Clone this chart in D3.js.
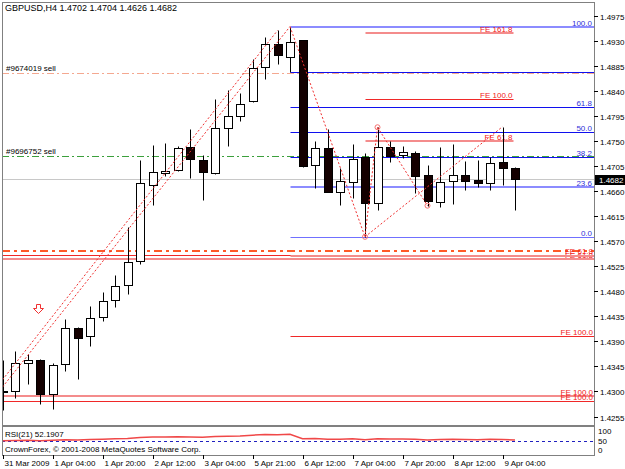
<!DOCTYPE html>
<html>
<head>
<meta charset="utf-8">
<script src="https://cdn.jsdelivr.net/npm/d3@7"></script>
<style>
body { margin: 0; background: #fff; }
svg { display: block; font-family: "Liberation Sans", Arial, sans-serif; font-size: 8px; }
</style>
</head>
<body>
<div id="vis"></div>
<script>
var width = 625,
	height = 469;

// GBPUSD H4 bars, first one is the half hidden bar at the left edge
var opens  = [1.4301, 1.4301, 1.4351, 1.4356, 1.4296, 1.4349, 1.4415, 1.4399, 1.4433, 1.4464, 1.4491, 1.4534, 1.4672, 1.4693, 1.4698, 1.4740, 1.4717, 1.4692, 1.4774, 1.4796, 1.4822, 1.4883, 1.4925, 1.4902, 1.4931, 1.4707, 1.4737, 1.4659, 1.4677, 1.4721, 1.4639, 1.4739, 1.4725, 1.4729, 1.4690, 1.4641, 1.4678, 1.4689, 1.4681, 1.4675, 1.4712, 1.4702];
var highs  = [1.4357, 1.4373, 1.4367, 1.4359, 1.4352, 1.4430, 1.4416, 1.4454, 1.4479, 1.4509, 1.4596, 1.4716, 1.4743, 1.4747, 1.4741, 1.4771, 1.4725, 1.4826, 1.4842, 1.4836, 1.4898, 1.4938, 1.4949, 1.4956, 1.4932, 1.4751, 1.4771, 1.4701, 1.4744, 1.4728, 1.4775, 1.4750, 1.4742, 1.4732, 1.4708, 1.4739, 1.4744, 1.4714, 1.4716, 1.4722, 1.4776, 1.4704];
var lows   = [1.4267, 1.4289, 1.4313, 1.4277, 1.4269, 1.4337, 1.4322, 1.4382, 1.4427, 1.4451, 1.4475, 1.4530, 1.4635, 1.4687, 1.4696, 1.4683, 1.4645, 1.4691, 1.4742, 1.4787, 1.4821, 1.4861, 1.4888, 1.4875, 1.4703, 1.4666, 1.4658, 1.4635, 1.4648, 1.4578, 1.4626, 1.4713, 1.4719, 1.4657, 1.4634, 1.4632, 1.4637, 1.4662, 1.4668, 1.4662, 1.4672, 1.4626];
var closes = [1.4301, 1.4352, 1.4356, 1.4295, 1.4347, 1.4415, 1.4396, 1.4432, 1.4463, 1.4489, 1.4532, 1.4674, 1.4694, 1.4697, 1.4738, 1.4718, 1.4694, 1.4773, 1.4795, 1.4817, 1.4881, 1.4925, 1.4904, 1.4928, 1.4705, 1.4738, 1.4659, 1.4679, 1.4718, 1.4638, 1.4739, 1.4723, 1.4731, 1.4688, 1.4643, 1.4677, 1.4690, 1.4678, 1.4674, 1.4711, 1.4701, 1.4682];
var rsi    = [49, 50, 51, 49, 51, 54, 53, 55, 57, 59, 61, 66, 68, 68, 70, 69, 67, 71, 73, 74, 78, 82, 80, 83, 59, 60, 56, 57, 59, 54, 59, 58, 58, 56, 53, 55, 56, 55, 54, 56, 55, 52.1907];

var priceTicks = ["1.4975", "1.4930", "1.4885", "1.4840", "1.4795", "1.4750", "1.4705", "1.4660", "1.4615", "1.4570", "1.4525", "1.4480", "1.4435", "1.4390", "1.4345", "1.4300", "1.4255"];
var dateLabels = ["31 Mar 2009", "1 Apr 04:00", "1 Apr 20:00", "2 Apr 12:00", "3 Apr 04:00", "5 Apr 21:00", "6 Apr 12:00", "7 Apr 04:00", "7 Apr 20:00", "8 Apr 12:00", "9 Apr 04:00"];
var dateBars   = [0, 4, 8, 12, 16, 20, 24, 28, 32, 36, 40];
var rsiTicks   = [100, 50, 0];

var lastPrice = 1.4682;

// order lines
var orderNames  = ["#9674019 sell", "#9696752 sell", ""];
var orderPrices = [1.4873, 1.4723, 1.4553];

// fibo retracement from the top (bar 23) to the low (bar 29)
var fibHigh = 1.4956, fibLow = 1.4578, fibStartBar = 23;
var fibLevels = [100, 78.6, 61.8, 50, 38.2, 23.6, 0];
var fibNames  = ["100.0", "", "61.8", "50.0", "38.2", "23.6", "0.0"];

// fibo expansion levels
var feNames  = ["FE 161.8", "FE 100.0", "FE 61.8", "FE 61.8", "FE 61.8", "", "FE 100.0", "FE 100.0", "FE 100.0"];
var fePrices = [1.4944, 1.4825, 1.4751, 1.4546, 1.4539, 1.4543, 1.4399, 1.4292, 1.4282];
var feFrom   = [29, 29, 29, null, null, 23, 23, null, null];
var feTo     = [41, 41, 41, null, null, null, null, null, null];
var feKind   = ["light", "dark", "light", "dark", "light", "light", "dark", "light", "dark"];

// dotted connecting lines [bar1, price1, bar2, price2]
var waveLines = [
	[0, 1.4308, 23, 1.4956],
	[0, 1.4321, 22, 1.4949],
	[23, 1.4956, 29, 1.4578],
	[29, 1.4578, 30, 1.4775],
	[30, 1.4775, 34, 1.4634],
	[29, 1.4578, 40, 1.4776]
];
var pivotBars   = [29, 30, 34];
var pivotPrices = [1.4578, 1.4775, 1.4634];

var arrowBar = 3, arrowPrice = 1.4458;

var chartL = 2, chartR = 594, chartT = 2, chartB = 425;
var rsiTop = 426, rsiBottom = 455;

var x = d3.scaleLinear().domain([0, 41]).range([2.5, 515]);
var y = d3.scaleLinear().domain([1.4255, 1.4975]).range([416.5, 16]);
var yr = d3.scaleLinear().domain([0, 100]).range([450, 431]);

function px(i) { return Math.round(x(i)) + 0.5; }
function py(p) { return Math.round(y(p)) + 0.5; }

var svg = d3.select('#vis')
	.append('svg')
	.attr('width', width)
	.attr('height', height);

svg.append('rect').attr('width', width).attr('height', height).attr('fill', '#fff');

svg.append('clipPath').attr('id', 'clipMain')
	.append('rect').attr('x', chartL + 1).attr('y', chartT + 1).attr('width', chartR - chartL - 1).attr('height', chartB - chartT - 1);
svg.append('clipPath').attr('id', 'clipRsi')
	.append('rect').attr('x', chartL + 1).attr('y', rsiTop + 1).attr('width', chartR - chartL - 1).attr('height', rsiBottom - rsiTop - 1);

var main = svg.append('g').attr('clip-path', 'url(#clipMain)');

// current price line
main.append('line')
	.attr('x1', chartL).attr('x2', chartR)
	.attr('y1', py(lastPrice)).attr('y2', py(lastPrice))
	.style('stroke', '#c8c8c8');

// order lines
var orderStyle = [
	{c: '#f4a890', w: 1, dash: '7,3,2,3'},
	{c: '#3ca03c', w: 1, dash: '7,3,2,3'},
	{c: '#ff5a28', w: 2, dash: '8,4,3,4'}
];
orderPrices.forEach(function(p, k) {
	var yy = orderStyle[k].w == 2 ? Math.round(y(p)) : py(p);
	main.append('line')
		.attr('x1', chartL).attr('x2', chartR)
		.attr('y1', yy).attr('y2', yy)
		.style('stroke', orderStyle[k].c)
		.style('stroke-width', orderStyle[k].w)
		.style('stroke-dasharray', orderStyle[k].dash);
	if (orderNames[k]) {
		main.append('text')
			.attr('x', 6).attr('y', py(p) - 3)
			.attr('fill', '#000')
			.text(orderNames[k]);
	}
});

// fib levels
var fibColors = {"100.0": "#8c8cff", "23.6": "#8c8cff", "0.0": "#7070ff"};
fibLevels.forEach(function(lv, k) {
	var p = fibLow + (fibHigh - fibLow) * lv / 100;
	var c = fibColors[fibNames[k]] || '#1010ee';
	var thick = (fibNames[k] == "100.0" || fibNames[k] == "23.6");
	main.append('line')
		.attr('x1', px(fibStartBar)).attr('x2', chartR)
		.attr('y1', thick ? Math.round(y(p)) : py(p)).attr('y2', thick ? Math.round(y(p)) : py(p))
		.style('stroke', c)
		.style('stroke-width', thick ? 2 : 1);
	main.append('text')
		.attr('x', chartR - 2).attr('y', py(p) - 2)
		.attr('text-anchor', 'end')
		.attr('fill', '#3030d8')
		.text(fibNames[k]);
});

// fibo expansion
var feStyle = {light: {c: '#f48c8c', w: 2}, dark: {c: '#f02828', w: 1}};
fePrices.forEach(function(p, k) {
	var st = feStyle[feKind[k]];
	var x1 = feFrom[k] == null ? chartL : px(feFrom[k]);
	var x2 = feTo[k] == null ? chartR : px(feTo[k]) - 2;
	var yy = st.w == 2 ? Math.round(y(p)) : py(p);
	main.append('line')
		.attr('x1', x1).attr('x2', x2)
		.attr('y1', yy).attr('y2', yy)
		.style('stroke', st.c)
		.style('stroke-width', st.w);
	if (feNames[k]) {
		main.append('text')
			.attr('x', x2 - 1).attr('y', py(p) - 2)
			.attr('text-anchor', 'end')
			.attr('fill', '#f02020')
			.text(feNames[k]);
	}
});

// candles
var bars = d3.range(opens.length);
var candle = main.selectAll('g.bar')
	.data(bars)
	.enter()
	.append('g')
	.attr('class', 'bar');

candle.append('line')
	.attr('x1', function(i) { return px(i); })
	.attr('x2', function(i) { return px(i); })
	.attr('y1', function(i) { return py(highs[i]); })
	.attr('y2', function(i) { return py(lows[i]); })
	.style('stroke', '#000');

candle.append('rect')
	.attr('x', function(i) { return px(i) - 4; })
	.attr('width', 8)
	.attr('y', function(i) { return py(Math.max(opens[i], closes[i])); })
	.attr('height', function(i) { return Math.max(1, Math.abs(py(opens[i]) - py(closes[i]))); })
	.style('fill', function(i) { return closes[i] >= opens[i] ? '#fff' : '#140000'; })
	.style('stroke', '#000');

// dotted wave lines
main.selectAll('line.wave')
	.data(waveLines)
	.enter()
	.append('line')
	.attr('class', 'wave')
	.attr('x1', function(d) { return x(d[0]); })
	.attr('y1', function(d) { return y(d[1]); })
	.attr('x2', function(d) { return x(d[2]); })
	.attr('y2', function(d) { return y(d[3]); })
	.style('stroke', '#f03030')
	.style('stroke-width', 1)
	.style('stroke-dasharray', '2,2');

main.selectAll('circle.pivot')
	.data(pivotBars)
	.enter()
	.append('circle')
	.attr('cx', function(d) { return x(d); })
	.attr('cy', function(d, k) { return y(pivotPrices[k]); })
	.attr('r', 2.5)
	.style('fill', 'none')
	.style('stroke', '#f47070');

// sell arrow
main.append('path')
	.attr('transform', 'translate(' + (Math.round(x(arrowBar)) - 1.5) + ',' + (Math.round(y(arrowPrice)) + 0.5) + ')')
	.attr('d', 'M-2,0 H2 V4 H5 L0,9 L-5,4 H-2 Z')
	.style('fill', '#fff')
	.style('stroke', '#f03030');

// frame of main window
svg.append('rect')
	.attr('x', chartL + 0.5).attr('y', chartT + 0.5)
	.attr('width', chartR - chartL).attr('height', chartB - chartT)
	.style('fill', 'none')
	.style('stroke', '#808080');

svg.append('text').attr('x', 5).attr('y', 11).attr('fill', '#000')
	.style('font-size', '9px')
	.text('GBPUSD,H4  ' + [opens[41], highs[41], lows[41], closes[41]].map(function(v) { return v.toFixed(4); }).join(' '));

// price axis
priceTicks.forEach(function(t) {
	var yy = py(+t);
	svg.append('line').attr('x1', chartR).attr('x2', chartR + 4).attr('y1', yy).attr('y2', yy).style('stroke', '#000');
	svg.append('text').attr('x', chartR + 6).attr('y', yy + 3).attr('fill', '#000').text(t);
});

svg.append('rect')
	.attr('x', chartR + 1).attr('y', Math.round(y(lastPrice)) - 4)
	.attr('width', width - chartR - 1).attr('height', 10)
	.style('fill', '#000');
svg.append('text')
	.attr('x', chartR + 5).attr('y', Math.round(y(lastPrice)) + 4)
	.attr('fill', '#fff')
	.text(lastPrice.toFixed(4));

// RSI window
var sub = svg.append('g').attr('clip-path', 'url(#clipRsi)');
sub.append('line')
	.attr('x1', chartL).attr('x2', chartR)
	.attr('y1', Math.round(yr(50)) + 0.5).attr('y2', Math.round(yr(50)) + 0.5)
	.style('stroke', '#2020c0')
	.style('stroke-dasharray', '3,3');

sub.append('path')
	.datum(rsi)
	.attr('d', d3.line().x(function(d, i) { return x(i); }).y(function(d) { return yr(d); }))
	.style('fill', 'none')
	.style('stroke', '#f04848')
	.style('stroke-width', 1.5);

svg.append('rect')
	.attr('x', chartL + 0.5).attr('y', rsiTop + 0.5)
	.attr('width', chartR - chartL).attr('height', rsiBottom - rsiTop)
	.style('fill', 'none')
	.style('stroke', '#808080');

svg.append('text').attr('x', 5).attr('y', 437).attr('fill', '#000')
	.text('RSI(21) ' + rsi[rsi.length - 1].toFixed(4));
svg.append('text').attr('x', 5).attr('y', 452).attr('fill', '#000')
	.text('CrownForex, \u00a9 2001-2008 MetaQuotes Software Corp.');

rsiTicks.forEach(function(t) {
	svg.append('text').attr('x', chartR + 4).attr('y', Math.round(yr(t)) + 3).attr('fill', '#000').text(t);
});

// time axis
dateBars.forEach(function(b, k) {
	var xx = px(b);
	svg.append('line').attr('x1', xx).attr('x2', xx).attr('y1', rsiBottom).attr('y2', rsiBottom + 4).style('stroke', '#000');
	svg.append('text').attr('x', xx + 1).attr('y', 466).attr('fill', '#000').text(dateLabels[k]);
});
</script>
</body>
</html>
